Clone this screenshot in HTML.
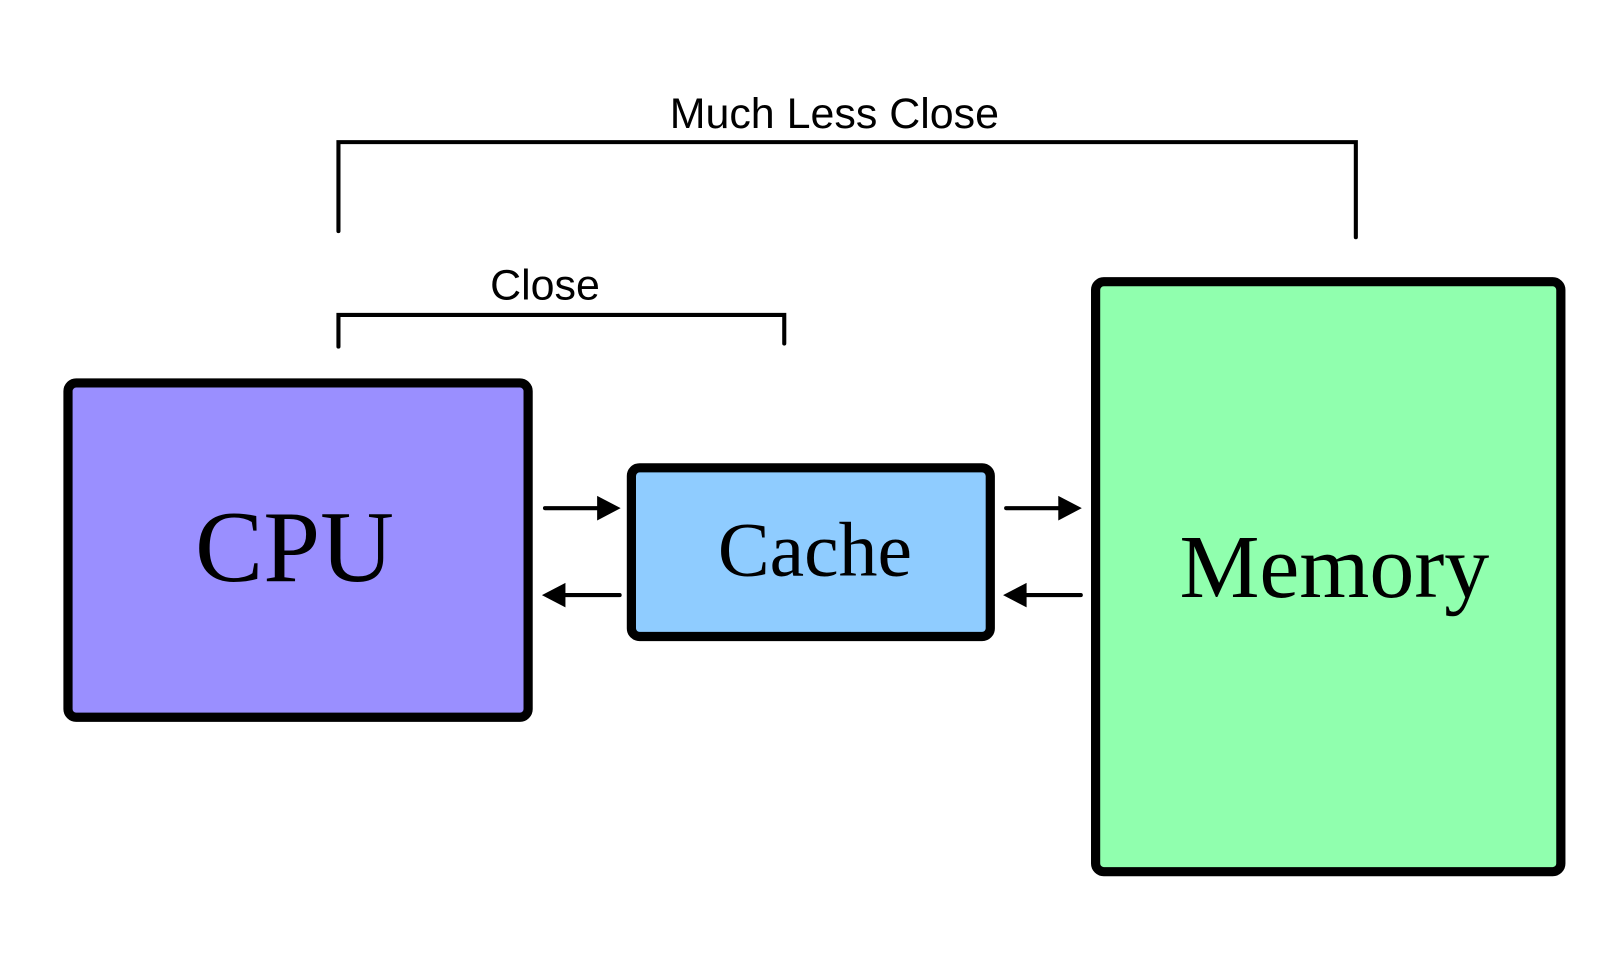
<!DOCTYPE html>
<html><head><meta charset="utf-8"><style>
html,body{margin:0;padding:0;background:#fff;}
svg{display:block;}
</style></head><body>
<svg width="1600" height="954" viewBox="0 0 1600 954" xmlns="http://www.w3.org/2000/svg">
<rect width="1600" height="954" fill="#fff"/>
<g transform="scale(1.0225)">
<text x="816" y="125" font-family="Liberation Sans, sans-serif" font-size="42" text-anchor="middle" fill="#000">Much Less Close</text>
<polyline points="331,226 331,139 1326,139 1326,232" fill="none" stroke="#000" stroke-width="4" stroke-linecap="round"/>
<text x="533" y="293" font-family="Liberation Sans, sans-serif" font-size="42" text-anchor="middle" fill="#000">Close</text>
<polyline points="331,339 331,308 767,308 767,336" fill="none" stroke="#000" stroke-width="4" stroke-linecap="round"/>

<rect x="66.5" y="374.5" width="450" height="327" rx="8" fill="#9a8fff" stroke="#000" stroke-width="9"/>
<text x="288" y="568" font-family="Liberation Serif, serif" font-size="100" text-anchor="middle" fill="#000">CPU</text>

<rect x="617.5" y="457.5" width="351" height="165" rx="8" fill="#8fccff" stroke="#000" stroke-width="9"/>
<text x="797" y="563" font-family="Liberation Serif, serif" font-size="76" text-anchor="middle" fill="#000">Cache</text>

<rect x="1071.5" y="275.5" width="455" height="577" rx="8" fill="#90ffae" stroke="#000" stroke-width="9"/>
<text x="1305" y="584" font-family="Liberation Serif, serif" font-size="88" text-anchor="middle" fill="#000">Memory</text>

<g stroke="#000" stroke-width="4" stroke-linecap="round">
<line x1="533" y1="497" x2="588" y2="497"/>
<line x1="551" y1="582" x2="606" y2="582"/>
<line x1="984" y1="497" x2="1039" y2="497"/>
<line x1="1002" y1="582" x2="1057" y2="582"/>
</g>
<g fill="#000">
<polygon points="607,497 584,485 584,509"/>
<polygon points="530,582 553,570 553,594"/>
<polygon points="1058,497 1035,485 1035,509"/>
<polygon points="981,582 1004,570 1004,594"/>
</g>
</g>
</svg>
</body></html>
